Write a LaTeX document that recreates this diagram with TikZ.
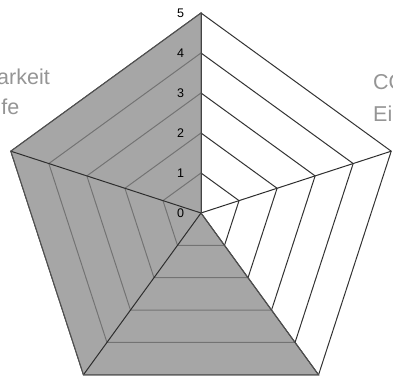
\documentclass[tikz,border=0pt]{standalone}
\usepackage{fontspec}
\setmainfont{Liberation Sans}
\usetikzlibrary{calc}
\definecolor{ringcol}{HTML}{333333}
\definecolor{spokecol}{HTML}{2E2E2E}
\definecolor{areacol}{HTML}{898989}
\definecolor{edgecol}{HTML}{505050}
\definecolor{labcol}{HTML}{959595}
\begin{document}
\begin{tikzpicture}[x=1pt,y=1pt,
  ringline/.style={draw=ringcol,line width=1pt,line join=miter},
  spokeline/.style={draw=spokecol,line width=1pt},
  areafill/.style={fill=areacol,fill opacity=0.75},
  areaedge/.style={draw=edgecol,line width=1pt},
  ticklab/.style={font=\fontsize{12.5}{14}\selectfont,text=black,inner sep=0pt},
  axislab/.style={font=\fontsize{21.5}{25}\selectfont,text=labcol,inner sep=0pt}]
\useasboundingbox (0,0) rectangle (393,379);
\clip (0,0) rectangle (393,379);
\fill[white] (0,0) rectangle (393,379);
\coordinate (c) at (201,166);
\foreach \k in {1,...,5}{
  \foreach \a [count=\i] in {90,162,234,306,18}{
    \coordinate (r\k-\i) at ($(c)+(\a:{40*\k})$);
  }
  \draw[ringline] (r\k-1) -- (r\k-2) -- (r\k-3) -- (r\k-4) -- (r\k-5) -- cycle;
}
\path[areafill] (r5-1) -- (c) -- (r5-4) -- (r5-3) -- (r5-2) -- cycle;
\foreach \i in {1,...,5} \draw[spokeline] (c) -- (r5-\i);
\draw[areaedge] (r5-1) -- (c) -- (r5-4) -- (r5-3) -- (r5-2) -- cycle;
\foreach \k in {0,...,5} \node[ticklab] (t\k) at (180.5,{166+40*\k}) {\k};
\node[axislab,anchor=base east] (la1) at (50,294) {Verfügbarkeit};
\node[axislab,anchor=base east] (la2) at (19.5,264) {Reife};
\node[axislab,anchor=base west] (lb1) at (373,289) {CO\textsubscript{2}-Bilanz};
\node[axislab,anchor=base west] (lb2) at (373,257.5) {Einsparung};
\end{tikzpicture}
\end{document}
